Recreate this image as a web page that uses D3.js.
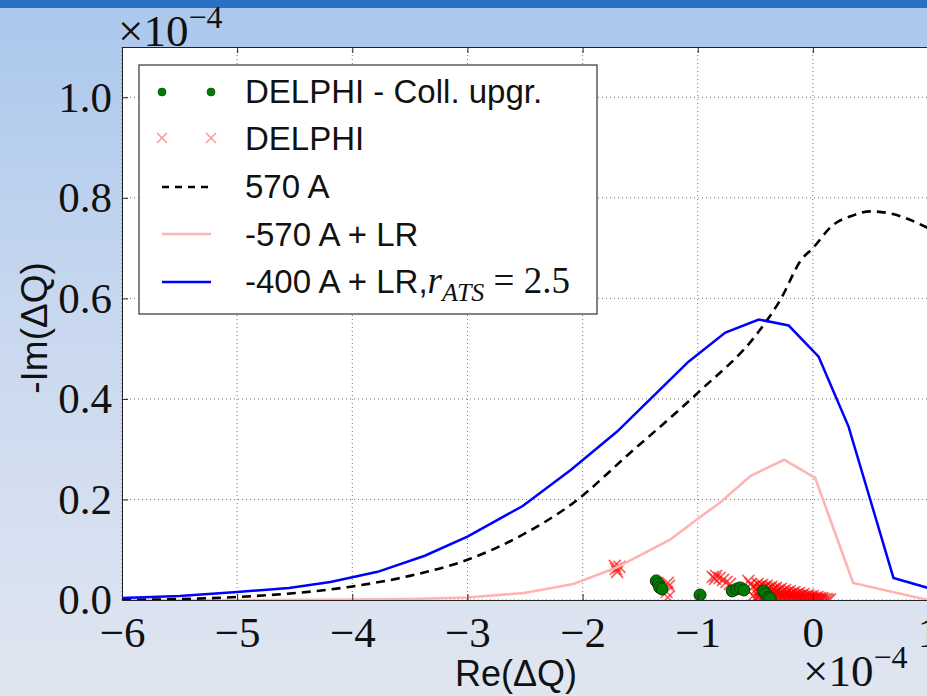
<!DOCTYPE html>
<html>
<head>
<meta charset="utf-8">
<script src="https://cdn.jsdelivr.net/npm/d3@7"></script>
<style>
  html, body { margin: 0; padding: 0; }
  svg { display: block; }
</style>
</head>
<body>
<svg id="chart" width="927" height="696"></svg>
<script>
// curves: Re(dQ) and -Im(dQ), both in units of 1e-4
const lineBlackRe = [-6.0, -5.0, -4.03, -3.5, -3.0, -2.52, -2.07, -1.6, -1.0, -0.47, -0.28, -0.10, 0.0, 0.17, 0.35, 0.5, 0.67, 1.0];
const lineBlackIm = [0.0, 0.006, 0.026, 0.048, 0.08, 0.13, 0.195, 0.29, 0.412, 0.534, 0.598, 0.677, 0.70, 0.745, 0.765, 0.773, 0.769, 0.74];

const linePinkRe = [-6.0, -5.0, -4.0, -3.5, -3.0, -2.51, -2.08, -1.71, -1.24, -0.99, -0.80, -0.54, -0.25, 0.02, 0.35, 1.0];
const linePinkIm = [0.0, 0.0, 0.001, 0.002, 0.005, 0.014, 0.032, 0.064, 0.12, 0.163, 0.195, 0.247, 0.279, 0.243, 0.034, 0.0];

const lineBlueRe = [-6.0, -5.5, -5.0, -4.55, -4.19, -3.78, -3.37, -3.0, -2.52, -2.10, -1.70, -1.41, -1.08, -0.76, -0.47, -0.21, 0.05, 0.31, 0.70, 1.0];
const lineBlueIm = [0.004, 0.008, 0.016, 0.024, 0.036, 0.056, 0.088, 0.126, 0.187, 0.259, 0.335, 0.40, 0.474, 0.532, 0.558, 0.546, 0.484, 0.345, 0.044, 0.024];

// DELPHI scatter (red crosses)
const delphiPts = [
  [-1.72, 0.068], [-1.71, 0.062], [-1.70, 0.056], [-1.68, 0.066],
  [-1.26, 0.034], [-1.25, 0.028], [-1.27, 0.016], [-1.26, 0.005],
  [-0.87, 0.046], [-0.85, 0.042], [-0.84, 0.048], [-0.81, 0.044], [-0.78, 0.040], [-0.75, 0.036], [-0.72, 0.032],
  [-0.56, 0.038], [-0.54, 0.032], [-0.52, 0.026], [-0.52, 0.008], [-0.50, 0.004],
  [-0.48, 0.032], [-0.48, 0.024], [-0.47, 0.016], [-0.47, 0.008], [-0.46, 0.001],
  [-0.46, 0.028], [-0.45, 0.020], [-0.45, 0.012], [-0.45, 0.004],
  [-0.44, 0.030], [-0.44, 0.022], [-0.43, 0.014], [-0.43, 0.006], [-0.42, 0.000],
  [-0.42, 0.026], [-0.41, 0.018], [-0.41, 0.010], [-0.41, 0.003],
  [-0.40, 0.028], [-0.40, 0.020], [-0.39, 0.012], [-0.39, 0.004],
  [-0.38, 0.024], [-0.37, 0.016], [-0.37, 0.008], [-0.37, 0.001],
  [-0.36, 0.026], [-0.36, 0.018], [-0.35, 0.010], [-0.35, 0.002],
  [-0.34, 0.022], [-0.33, 0.014], [-0.33, 0.006], [-0.33, 0.000],
  [-0.32, 0.024], [-0.32, 0.016], [-0.31, 0.008], [-0.31, 0.001],
  [-0.30, 0.020], [-0.29, 0.012], [-0.29, 0.005],
  [-0.28, 0.022], [-0.28, 0.014], [-0.27, 0.007], [-0.27, 0.001],
  [-0.26, 0.018], [-0.25, 0.010], [-0.25, 0.003],
  [-0.24, 0.020], [-0.24, 0.013], [-0.23, 0.006], [-0.23, 0.000],
  [-0.22, 0.016], [-0.21, 0.009], [-0.21, 0.002],
  [-0.20, 0.018], [-0.20, 0.011], [-0.19, 0.005],
  [-0.18, 0.014], [-0.17, 0.008], [-0.17, 0.001],
  [-0.16, 0.016], [-0.16, 0.010], [-0.15, 0.004],
  [-0.14, 0.012], [-0.13, 0.006], [-0.13, 0.000],
  [-0.12, 0.014], [-0.12, 0.008], [-0.11, 0.002],
  [-0.10, 0.010], [-0.09, 0.004],
  [-0.08, 0.012], [-0.08, 0.006], [-0.07, 0.001],
  [-0.06, 0.008], [-0.05, 0.003],
  [-0.04, 0.010], [-0.04, 0.005], [-0.03, 0.000],
  [-0.02, 0.007], [-0.01, 0.002],
  [0.00, 0.008], [0.00, 0.003],
  [0.02, 0.005], [0.02, 0.001],
  [0.04, 0.006], [0.04, 0.002],
  [0.06, 0.004], [0.06, 0.000],
  [0.08, 0.004], [0.08, 0.001],
  [0.10, 0.002], [0.12, 0.002], [0.13, 0.000], [0.15, 0.001]
];

// DELPHI - Coll. upgr. (green dots)
const collPts = [
  [-1.36, 0.038], [-1.34, 0.032], [-1.33, 0.025], [-1.31, 0.022],
  [-0.98, 0.010],
  [-0.70, 0.018], [-0.66, 0.022], [-0.63, 0.024], [-0.60, 0.020],
  [-0.43, 0.018], [-0.41, 0.012], [-0.39, 0.005], [-0.37, 0.003]
];

const xTicks = [-6, -5, -4, -3, -2, -1, 0, 1];
const yTicks = [0.0, 0.2, 0.4, 0.6, 0.8, 1.0];
const legendLabels = ['DELPHI - Coll. upgr.', 'DELPHI', '570 A', '-570 A + LR', '-400 A + LR,'];

const W = 927, H = 696;
const pLeft = 122, pRight = 928, pTop = 47, pBottom = 600;
const serif = '"Liberation Serif", "DejaVu Serif", serif';
const sans = '"Liberation Sans", Arial, sans-serif';

const svg = d3.select('#chart');

// slide background
const defs = svg.append('defs');
const grad = defs.append('linearGradient')
    .attr('id', 'bg').attr('x1', 0).attr('y1', 0).attr('x2', 0).attr('y2', 1);
grad.append('stop').attr('offset', '0%').attr('stop-color', '#aac7ed');
grad.append('stop').attr('offset', '45%').attr('stop-color', '#c8d8ef');
grad.append('stop').attr('offset', '100%').attr('stop-color', '#e0e6f1');
svg.append('rect').attr('width', W).attr('height', H).attr('fill', 'url(#bg)');
svg.append('rect').attr('width', W).attr('height', 8).attr('fill', '#2a6fc1');

defs.append('clipPath').attr('id', 'plotclip')
    .append('rect').attr('x', pLeft).attr('y', pTop).attr('width', pRight - pLeft).attr('height', pBottom - pTop);

const x = d3.scaleLinear().domain([-6, 1]).range([pLeft, pRight]);
const y = d3.scaleLinear().domain([0, 1.1]).range([pBottom, pTop]);

svg.append('rect')
    .attr('x', pLeft).attr('y', pTop)
    .attr('width', pRight - pLeft).attr('height', pBottom - pTop)
    .attr('fill', '#fff');

// grid
const grid = svg.append('g').attr('stroke', '#777').attr('stroke-width', 1).attr('stroke-dasharray', '1,3');
grid.selectAll('line.gx').data(xTicks).enter().append('line')
    .attr('x1', d => x(d)).attr('x2', d => x(d)).attr('y1', pTop).attr('y2', pBottom);
grid.selectAll('line.gy').data(yTicks).enter().append('line')
    .attr('x1', pLeft).attr('x2', pRight).attr('y1', d => y(d)).attr('y2', d => y(d));

// scatter + lines (clipped)
const plot = svg.append('g').attr('clip-path', 'url(#plotclip)');

const cross = (g, cx, cy, s) => {
    g.append('path')
        .attr('d', `M${cx - s},${cy - s}L${cx + s},${cy + s}M${cx - s},${cy + s}L${cx + s},${cy - s}`);
};
const crosses = plot.append('g').attr('stroke', '#ff0000').attr('stroke-opacity', 0.65).attr('stroke-width', 1.6).attr('fill', 'none');
delphiPts.forEach(d => cross(crosses, x(d[0]), y(d[1]), 6));

plot.append('g').selectAll('circle').data(collPts).enter().append('circle')
    .attr('cx', d => x(d[0])).attr('cy', d => y(d[1])).attr('r', 6)
    .attr('fill', '#007a00').attr('stroke', '#0a3a0a').attr('stroke-width', 1);

const zip = (a, b) => a.map((v, i) => [v, b[i]]);
const lineStraight = d3.line().x(d => x(d[0])).y(d => y(d[1]));
const lineSmooth = d3.line().x(d => x(d[0])).y(d => y(d[1])).curve(d3.curveMonotoneX);

plot.append('path').datum(zip(linePinkRe, linePinkIm))
    .attr('d', lineStraight).attr('fill', 'none').attr('stroke', '#ffb3b3').attr('stroke-width', 2.6);
plot.append('path').datum(zip(lineBlackRe, lineBlackIm))
    .attr('d', lineSmooth).attr('fill', 'none').attr('stroke', '#000')
    .attr('stroke-width', 2.6).attr('stroke-dasharray', '9,6');
plot.append('path').datum(zip(lineBlueRe, lineBlueIm))
    .attr('d', lineStraight).attr('fill', 'none').attr('stroke', '#0000ff').attr('stroke-width', 2.5);

// axes
const styleAxis = g => {
    g.select('.domain').attr('stroke', '#222');
    g.selectAll('.tick line').attr('stroke', '#222');
    g.selectAll('.tick text').attr('font-family', serif).attr('font-size', 43).attr('fill', '#111');
};
const fmtX = d => (d < 0 ? '\u2212' + Math.abs(d) : String(d));

svg.append('g').attr('transform', `translate(0,${pBottom})`)
    .call(d3.axisBottom(x).tickValues(xTicks).tickFormat(fmtX).tickSizeInner(-6).tickSizeOuter(0).tickPadding(16))
    .call(styleAxis);
svg.append('g').attr('transform', `translate(0,${pTop})`)
    .call(d3.axisTop(x).tickValues(xTicks).tickFormat('').tickSizeInner(-6).tickSizeOuter(0))
    .call(styleAxis);
svg.append('g').attr('transform', `translate(${pLeft},0)`)
    .call(d3.axisLeft(y).tickValues(yTicks).tickFormat(d3.format('.1f')).tickSizeInner(-6).tickSizeOuter(0).tickPadding(10))
    .call(styleAxis);

// offset multipliers
const mult = (px, py) => {
    const t = svg.append('text').attr('x', px).attr('y', py)
        .attr('font-family', serif).attr('font-size', 45).attr('fill', '#111');
    t.append('tspan').text('\u00d710');
    t.append('tspan').attr('dy', -18).attr('font-size', 32).text('\u22124');
};
mult(118, 46);
mult(803, 686);

// axis titles
svg.append('text').attr('x', 516).attr('y', 686).attr('text-anchor', 'middle')
    .attr('font-family', sans).attr('font-size', 36).attr('fill', '#111').text('Re(\u0394Q)');
svg.append('text').attr('transform', 'translate(47,328) rotate(-90)').attr('text-anchor', 'middle')
    .attr('font-family', sans).attr('font-size', 37).attr('fill', '#111').text('-Im(\u0394Q)');

// legend
const lg = svg.append('g');
lg.append('rect').attr('x', 139).attr('y', 65).attr('width', 458).attr('height', 249)
    .attr('fill', '#fff').attr('stroke', '#333').attr('stroke-width', 1.2);

const rowY = [92, 138, 187, 234, 282];
const baseY = [103, 150, 198, 246, 293];
const lx1 = 162, lx2 = 211;

[lx1, lx2].forEach(px => lg.append('circle').attr('cx', px).attr('cy', rowY[0]).attr('r', 4)
    .attr('fill', '#007a00').attr('stroke', '#0a3a0a').attr('stroke-width', 0.6));
const lgc = lg.append('g').attr('stroke', '#ff0000').attr('stroke-opacity', 0.45).attr('stroke-width', 1.3);
[lx1, lx2].forEach(px => cross(lgc, px, rowY[1], 5));
lg.append('line').attr('x1', lx1).attr('x2', lx2).attr('y1', rowY[2]).attr('y2', rowY[2])
    .attr('stroke', '#000').attr('stroke-width', 2.4).attr('stroke-dasharray', '7,6');
lg.append('line').attr('x1', lx1).attr('x2', lx2).attr('y1', rowY[3]).attr('y2', rowY[3])
    .attr('stroke', '#ffb3b3').attr('stroke-width', 2.6);
lg.append('line').attr('x1', lx1).attr('x2', lx2).attr('y1', rowY[4]).attr('y2', rowY[4])
    .attr('stroke', '#0000ff').attr('stroke-width', 2.5);

legendLabels.forEach((t, i) => {
    const tx = lg.append('text').attr('x', 245).attr('y', baseY[i])
        .attr('font-family', sans).attr('font-size', 33).attr('fill', '#111').text(t);
    if (i === 4) {
        tx.append('tspan').attr('font-family', serif).attr('font-style', 'italic').attr('font-size', 37).text('r');
        tx.append('tspan').attr('font-family', serif).attr('font-style', 'italic')
            .attr('font-size', 26).attr('dy', 8).text('ATS');
        tx.append('tspan').attr('font-family', serif).attr('font-size', 37).attr('dy', -8).text(' = 2.5');
    }
});
</script>
</body>
</html>
